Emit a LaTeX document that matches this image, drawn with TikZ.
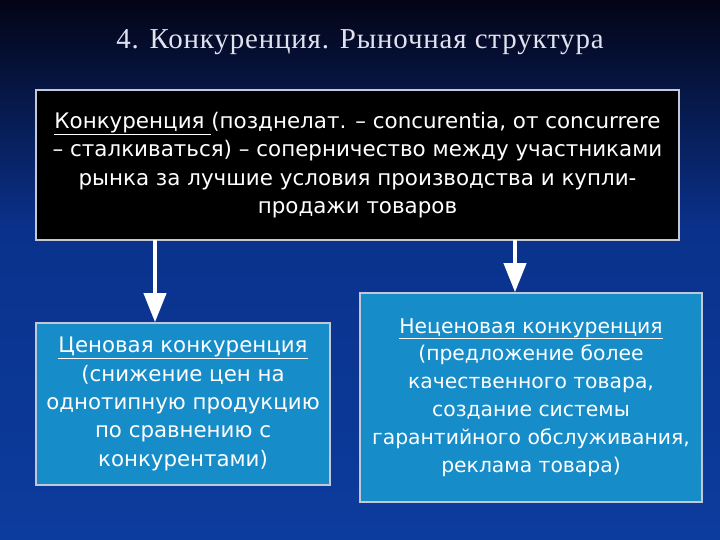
\documentclass[tikz,border=0pt]{standalone}
\usepackage{fontspec}
\setmainfont{DejaVu Sans}
\newfontfamily\titlefont[LetterSpace=3]{Liberation Serif}
\usetikzlibrary{arrows.meta}
\definecolor{bgtop}{RGB}{4,4,22}
\definecolor{bgmid}{RGB}{10,50,140}
\definecolor{bgbot}{RGB}{12,60,158}
\definecolor{boxblue}{RGB}{22,140,200}
\definecolor{edgegray}{RGB}{196,200,214}
\definecolor{titlegray}{RGB}{224,226,238}

\begin{document}
\begin{tikzpicture}[x=1bp, y=-1bp,
  box/.style={draw=edgegray, line width=1.6bp, align=center, text=white, inner sep=0pt},
  arr/.style={white, line width=4bp, -{Triangle[width=22bp, length=29bp]}}]
  \fill[top color=bgtop, bottom color=bgmid] (0,0) rectangle (720,230);
  \fill[top color=bgmid, bottom color=bgbot] (0,230) rectangle (720,540);
  \node[text=titlegray, font=\titlefont\fontsize{29}{33}\selectfont] (title) at (360,42) {4. Конкуренция. Рыночная структура};
  \node[box, fill=black, minimum width=643bp, minimum height=150bp, font=\fontsize{21.5}{28.5}\selectfont] (def) at (357.5,165)
    {\underline{Конкуренция\ }(позднелат. -- concurentia, от concurrere\\
     -- сталкиваться) -- соперничество между участниками\\
     рынка за лучшие условия производства и купли-\\
     продажи товаров};
  \node[box, fill=boxblue, minimum width=294bp, minimum height=162bp, font=\fontsize{21.4}{28.5}\selectfont] (price) at (183,404)
    {\underline{Ценовая конкуренция}\\(снижение цен на\\однотипную продукцию\\по сравнению с\\конкурентами)};
  \node[box, fill=boxblue, minimum width=342bp, minimum height=209bp, font=\fontsize{20.4}{28}\selectfont] (nonprice) at (531,397.5)
    {\underline{Неценовая конкуренция}\\(предложение более\\качественного товара,\\создание системы\\гарантийного обслуживания,\\реклама товара)};
  \coordinate (p1) at (155,240);
  \coordinate (p2) at (515,240);
  \draw[arr] (p1) -- (p1 |- price.north);
  \draw[arr] (p2) -- (p2 |- nonprice.north);
\end{tikzpicture}
\end{document}
